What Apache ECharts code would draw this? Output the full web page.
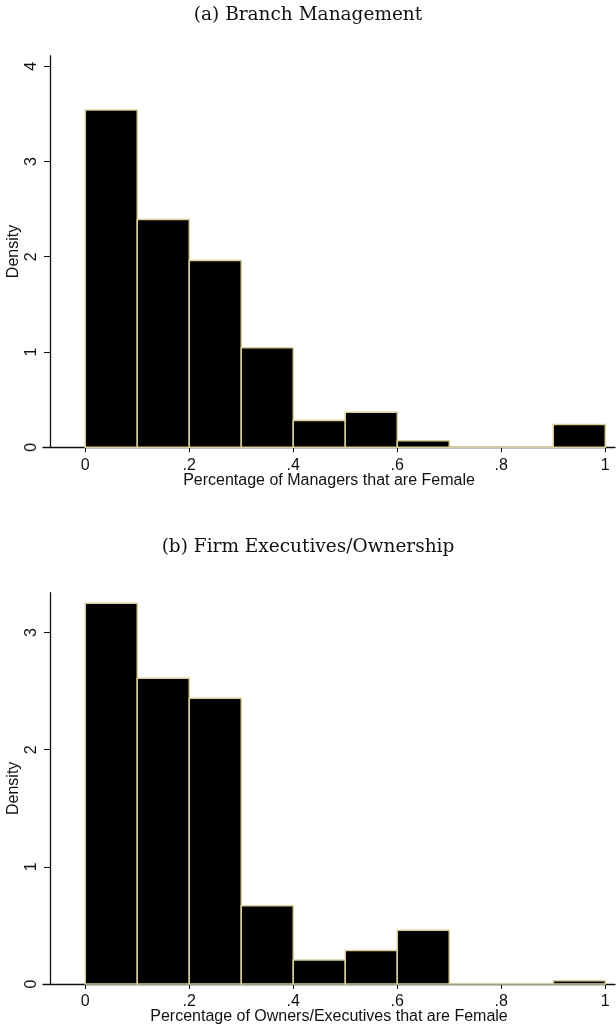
<!DOCTYPE html>
<html>
<head>
<meta charset="utf-8">
<script src="https://cdn.jsdelivr.net/npm/echarts@6/dist/echarts.min.js"></script>
<style>
html,body{margin:0;padding:0;background:#fff;}
#c{width:616px;height:1030px;}
</style>
</head>
<body>
<div id="c"></div>
<script>
// ---- data ----
const binStarts = [0, 0.1, 0.2, 0.3, 0.4, 0.5, 0.6, 0.7, 0.8, 0.9];
const binWidth = 0.1;
const densityManagers = [3.54, 2.39, 1.96, 1.045, 0.28, 0.367, 0.07, 0, 0, 0.238];
const densityOwners = [3.25, 2.61, 2.44, 0.667, 0.205, 0.285, 0.459, 0, 0, 0.028];
const xTickValues = [0, 0.2, 0.4, 0.6, 0.8, 1];
const xTickLabels = ['0', '.2', '.4', '.6', '.8', '1'];
const yTicksA = [0, 1, 2, 3, 4];
const yTicksB = [0, 1, 2, 3];
const titleA = '(a) Branch Management';
const titleB = '(b) Firm Executives/Ownership';
const xNameA = 'Percentage of Managers that are Female';
const xNameB = 'Percentage of Owners/Executives that are Female';
const yName = 'Density';

// ---- chart ----
const chart = echarts.init(document.getElementById('c'), null, {renderer: 'canvas'});
const axisFont = 'Liberation Sans, Arial, sans-serif';
const ink = '#111';

function binData(vals) {
  return binStarts.map((s, i) => [s, +(s + binWidth).toFixed(2), vals[i]]);
}
function renderBar(params, api) {
  const p0 = api.coord([api.value(0), api.value(2)]);
  const p1 = api.coord([api.value(1), 0]);
  return {
    type: 'rect',
    shape: {x: p0[0], y: p0[1], width: p1[0] - p0[0], height: p1[1] - p0[1]},
    style: {fill: '#000', stroke: '#d8cf9c', lineWidth: 1.5}
  };
}
function xAxisCfg(gridIndex, name) {
  return {
    type: 'value', gridIndex: gridIndex, min: -0.0813, max: 1.0187,
    name: name, nameLocation: 'middle', nameGap: 25, nameMoveOverlap: false,
    nameTextStyle: {fontFamily: axisFont, fontSize: 16, color: ink},
    splitLine: {show: false},
    axisLine: {show: true, onZero: false, lineStyle: {color: ink, width: 1.3}},
    axisTick: {show: true, length: 5, customValues: xTickValues, lineStyle: {color: ink}},
    axisLabel: {
      customValues: xTickValues, margin: 10, fontFamily: axisFont, fontSize: 16, color: ink,
      formatter: function (v) { const i = xTickValues.findIndex(t => Math.abs(t - v) < 1e-9); return i >= 0 ? xTickLabels[i] : ''; }
    }
  };
}
function yAxisCfg(gridIndex, max, ticks) {
  return {
    type: 'value', gridIndex: gridIndex, min: 0, max: max, offset: -7,
    name: yName, nameLocation: 'middle', nameGap: 28, nameRotate: 90, nameMoveOverlap: false,
    nameTextStyle: {fontFamily: axisFont, fontSize: 16, color: ink},
    splitLine: {show: false},
    axisLine: {show: true, onZero: false, lineStyle: {color: ink, width: 1.3}},
    axisTick: {show: true, length: 6, customValues: ticks, lineStyle: {color: ink}},
    axisLabel: {customValues: ticks, rotate: 90, margin: 10, fontFamily: axisFont, fontSize: 16, color: ink}
  };
}

chart.setOption({
  backgroundColor: '#fff',
  animation: false,
  title: [
    {text: titleA, left: 'center', top: 1, textStyle: {fontFamily: 'DejaVu Serif', fontSize: 18.5, fontWeight: 'normal', color: ink}},
    {text: titleB, left: 'center', top: 533, textStyle: {fontFamily: 'DejaVu Serif', fontSize: 18.5, fontWeight: 'normal', color: ink}}
  ],
  grid: [
    {left: 43, width: 572, top: 55.7, height: 391.6, containLabel: false, outerBoundsMode: 'none'},
    {left: 43, width: 572, top: 592.7, height: 391.3, containLabel: false, outerBoundsMode: 'none'}
  ],
  xAxis: [xAxisCfg(0, xNameA), xAxisCfg(1, xNameB)],
  yAxis: [yAxisCfg(0, 4.11, yTicksA), yAxisCfg(1, 3.34, yTicksB)],
  series: [
    {type: 'custom', xAxisIndex: 0, yAxisIndex: 0, renderItem: renderBar, encode: {x: [0, 1], y: 2}, data: binData(densityManagers)},
    {type: 'custom', xAxisIndex: 1, yAxisIndex: 1, renderItem: renderBar, encode: {x: [0, 1], y: 2}, data: binData(densityOwners)}
  ]
});
</script>
</body>
</html>
